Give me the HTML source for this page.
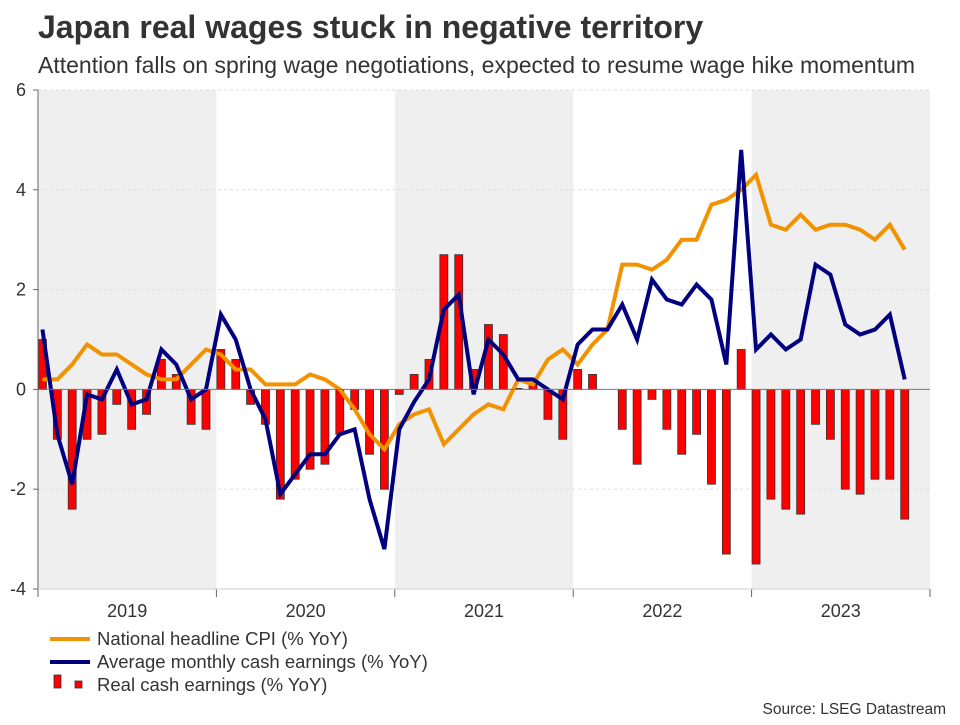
<!DOCTYPE html>
<html><head><meta charset="utf-8"><style>
body{margin:0;background:#fff;font-family:"Liberation Sans",Arial,sans-serif;}
svg text{font-family:"Liberation Sans",Arial,sans-serif;}
</style></head><body>
<svg id="chart" width="960" height="720" viewBox="0 0 960 720" xmlns="http://www.w3.org/2000/svg">
<text x="38" y="38" font-size="32" font-weight="bold" fill="#333">Japan real wages stuck in negative territory</text>
<text x="38" y="73" font-size="23" fill="#333">Attention falls on spring wage negotiations, expected to resume wage hike momentum</text>
<g id="bands"></g><g id="grid"></g><g id="bars"></g><g id="lines"></g><g id="axes"></g>
<g>
<line x1="50" y1="639" x2="90" y2="639" stroke="#F39200" stroke-width="4"/>
<text x="97" y="645" font-size="18.5" fill="#333">National headline CPI (% YoY)</text>
<line x1="50" y1="662" x2="90" y2="662" stroke="#000080" stroke-width="4"/>
<text x="97" y="668" font-size="18.5" fill="#333">Average monthly cash earnings (% YoY)</text>
<rect x="54" y="675" width="7" height="13" fill="#f00" stroke="#333" stroke-width="0.8"/>
<rect x="75" y="681" width="7" height="7" fill="#f00" stroke="#333" stroke-width="0.8"/>
<text x="97" y="691" font-size="18.5" fill="#333">Real cash earnings (% YoY)</text>
</g>
<text x="946" y="714" font-size="15.5" fill="#333" text-anchor="end">Source: LSEG Datastream</text>
</svg>
<script>
const years = ["2019","2020","2021","2022","2023"];
const yTicks = [6,4,2,0,-2,-4];
const cpi = [0.2,0.2,0.5,0.9,0.7,0.7,0.5,0.3,0.2,0.2,0.5,0.8,
 0.7,0.4,0.4,0.1,0.1,0.1,0.3,0.2,0.0,-0.4,-0.9,-1.2,
 -0.7,-0.5,-0.4,-1.1,-0.8,-0.5,-0.3,-0.4,0.2,0.1,0.6,0.8,
 0.5,0.9,1.2,2.5,2.5,2.4,2.6,3.0,3.0,3.7,3.8,4.0,
 4.3,3.3,3.2,3.5,3.2,3.3,3.3,3.2,3.0,3.3,2.8];
const earnings = [1.2,-0.9,-1.9,-0.1,-0.2,0.4,-0.3,-0.2,0.8,0.5,-0.2,0.0,
 1.5,1.0,0.0,-0.6,-2.1,-1.7,-1.3,-1.3,-0.9,-0.8,-2.2,-3.2,
 -0.8,-0.25,0.2,1.6,1.9,-0.1,1.0,0.7,0.2,0.2,0.0,-0.2,
 0.9,1.2,1.2,1.7,1.0,2.2,1.8,1.7,2.1,1.8,0.5,4.8,
 0.8,1.1,0.8,1.0,2.5,2.3,1.3,1.1,1.2,1.5,0.2];
const realEarnings = [1.0,-1.0,-2.4,-1.0,-0.9,-0.3,-0.8,-0.5,0.6,0.3,-0.7,-0.8,
 0.8,0.6,-0.3,-0.7,-2.2,-1.8,-1.6,-1.5,-0.9,-0.4,-1.3,-2.0,
 -0.1,0.3,0.6,2.7,2.7,0.4,1.3,1.1,0.02,0.1,-0.6,-1.0,
 0.4,0.3,0.0,-0.8,-1.5,-0.2,-0.8,-1.3,-0.9,-1.9,-3.3,0.8,
 -3.5,-2.2,-2.4,-2.5,-0.7,-1.0,-2.0,-2.1,-1.8,-1.8,-2.6];

const NS="http://www.w3.org/2000/svg";
const L=38,R=930,T=90,B=589,yMax=6,yMin=-4;
const yearW=(R-L)/5, monthW=yearW/12;
const x=i=>L+monthW*0.3+i*monthW;
const y=v=>T+(yMax-v)/(yMax-yMin)*(B-T);
function mk(tag,attrs,parent){const e=document.createElementNS(NS,tag);for(const k in attrs)e.setAttribute(k,attrs[k]);parent.appendChild(e);return e;}
const gB=document.getElementById('bands'),gG=document.getElementById('grid'),gBar=document.getElementById('bars'),gL=document.getElementById('lines'),gA=document.getElementById('axes');
years.forEach((yr,k)=>{
 if(k%2===0){const r=mk('rect',{x:L+k*yearW,y:T,width:yearW,height:B-T,fill:'#efefef'},gB);
 
 }
 const t=mk('text',{x:L+k*yearW+yearW/2,y:617,'font-size':18,fill:'#333','text-anchor':'middle'},gA);
 t.textContent=yr;
 
 
});
for(let k=0;k<=5;k++){const tl=mk('line',{x1:L+k*yearW,x2:L+k*yearW,y1:B,y2:B+8,stroke:'#666','stroke-width':1},gA);
 
 }
yTicks.forEach(v=>{
 if(v!==0){const g=mk('line',{x1:L,x2:R,y1:y(v),y2:y(v),stroke:'#ddd','stroke-dasharray':'3,3'},gG);
 
 }
 const tk=mk('line',{x1:L-5,x2:L,y1:y(v),y2:y(v),stroke:'#666'},gA);
 
 
 const t=mk('text',{x:L-12,y:y(v)+6,'font-size':18,fill:'#333','text-anchor':'end'},gA);
 t.textContent=v;
 
 
});
realEarnings.forEach((v,i)=>{
 const y0=y(0),yv=y(v);
 const r=mk('rect',{x:x(i)-4,y:Math.min(y0,yv),width:8,height:Math.abs(yv-y0),fill:'#ff0000',stroke:'#333','stroke-width':0.8},gBar);
 
 
});
const zl=mk('line',{x1:L,x2:R,y1:y(0),y2:y(0),stroke:'#777','stroke-width':1},gA);


const ax=mk('line',{x1:L,x2:L,y1:T,y2:B,stroke:'#666'},gA);


const ax2=mk('line',{x1:L,x2:R,y1:B,y2:B,stroke:'#ccc'},gA);


function line(data,color,name){
 const p=mk('polyline',{points:data.map((v,i)=>x(i)+','+y(v)).join(' '),fill:'none',stroke:color,'stroke-width':4,'stroke-linejoin':'miter'},gL);
 
 
}
line(cpi,'#F39200','cpi-line');
line(earnings,'#000080','earnings-line');
</script>
</body></html>
